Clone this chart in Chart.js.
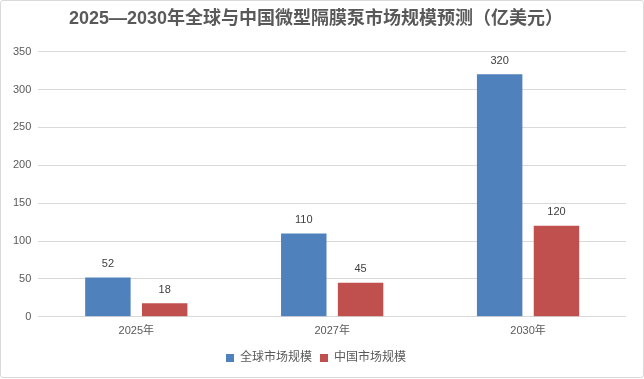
<!DOCTYPE html>
<html>
<head>
<meta charset="utf-8">
<script src="https://cdn.jsdelivr.net/npm/chart.js@4.4.0/dist/chart.umd.min.js"></script>
<style>
html,body{margin:0;padding:0;background:#fff;}
#wrap{position:absolute;left:0;top:0;width:642px;height:376px;border:1px solid #D9D9D9;border-radius:3px;background:#fff;}
canvas{display:block;}
</style>
</head>
<body>
<div id="wrap"><canvas id="c" width="642" height="376"></canvas></div>
<script>
const categories = ['2025年', '2027年', '2030年'];
const globalMarket = [52, 110, 320];
const chinaMarket = [18, 45, 120];
const seriesNames = ['全球市场规模', '中国市场规模'];
const yTicks = [0, 50, 100, 150, 200, 250, 300, 350];
const titleText = '2025—2030年全球与中国微型隔膜泵市场规模预测（亿美元）';

const FONT = '"Liberation Sans", "Noto Sans CJK SC", sans-serif';

const valueLabels = {
  id: 'valueLabels',
  afterDatasetsDraw(chart) {
    const ctx = chart.ctx;
    ctx.save();
    ctx.font = '11px ' + FONT;
    ctx.fillStyle = '#404040';
    ctx.textAlign = 'center';
    ctx.textBaseline = 'bottom';
    chart.data.datasets.forEach((ds, i) => {
      const meta = chart.getDatasetMeta(i);
      meta.data.forEach((bar, j) => {
        ctx.fillText(String(ds.data[j]), bar.x, bar.y - 8);
      });
    });
    ctx.restore();
  }
};

new Chart(document.getElementById('c'), {
  type: 'bar',
  data: {
    labels: categories,
    datasets: [
      { label: seriesNames[0], data: globalMarket, backgroundColor: '#4F81BD', categoryPercentage: 0.58, barPercentage: 0.8 },
      { label: seriesNames[1], data: chinaMarket, backgroundColor: '#C0504D', categoryPercentage: 0.58, barPercentage: 0.8 }
    ]
  },
  options: {
    responsive: false,
    animation: false,
    devicePixelRatio: 1,
    layout: { padding: { left: 5, right: 17, top: 0, bottom: 3 } },
    plugins: {
      title: {
        display: true, text: titleText, color: '#595959',
        font: { family: FONT, size: 18, weight: 'bold' },
        padding: { top: 7, bottom: 22 }
      },
      legend: {
        position: 'bottom',
        labels: {
          color: '#595959', font: { family: FONT, size: 12 },
          boxWidth: 8, boxHeight: 8, padding: 8
        }
      },
      tooltip: { enabled: false }
    },
    scales: {
      x: {
        grid: { display: false },
        border: { display: false },
        ticks: { color: '#595959', font: { family: FONT, size: 11 }, padding: 0 },
        afterFit(axis) { axis.height += 6; }
      },
      y: {
        min: 0, max: 350,
        afterBuildTicks(axis) { axis.ticks = yTicks.map(v => ({ value: v })); },
        grid: { color: '#D9D9D9', drawTicks: false },
        border: { display: false },
        ticks: { color: '#595959', font: { family: FONT, size: 11 }, padding: 7 }
      }
    }
  },
  plugins: [valueLabels]
});
</script>
</body>
</html>
